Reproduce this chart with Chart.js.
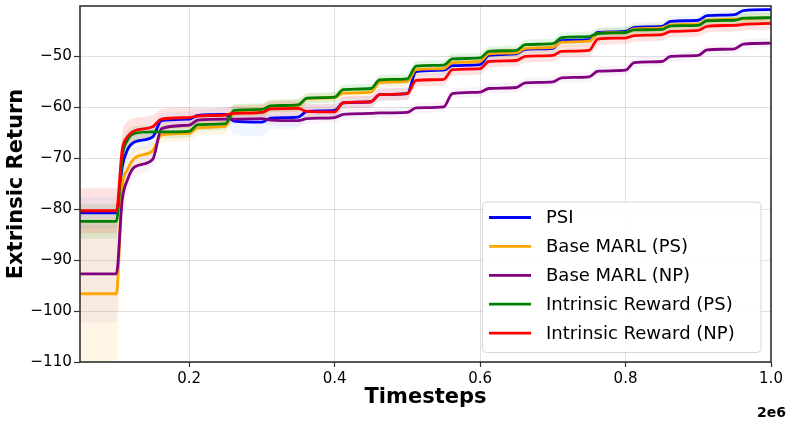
<!DOCTYPE html>
<html>
<head>
<meta charset="utf-8">
<script src="https://cdn.jsdelivr.net/npm/chart.js@4/dist/chart.umd.min.js"></script>
<style>
  html, body { margin: 0; padding: 0; background: #fff; }
  #wrap { width: 793px; height: 428px; position: relative; }
</style>
</head>
<body>
<div id="wrap"><canvas id="c" width="793" height="428"></canvas></div>
<script>
// Timesteps (units of 2e6)
const timesteps = [0.05, 0.1, 0.108, 0.115, 0.125, 0.15, 0.162, 0.2, 0.212, 0.25, 0.262, 0.3, 0.312, 0.35, 0.362, 0.4,
  0.412, 0.45, 0.462, 0.5, 0.512, 0.55, 0.562, 0.6, 0.612, 0.65, 0.662, 0.7, 0.712, 0.75, 0.762, 0.8,
  0.812, 0.85, 0.862, 0.9, 0.912, 0.95, 0.962, 1.0];

const seriesNames = ["PSI", "Base MARL (PS)", "Base MARL (NP)", "Intrinsic Reward (PS)", "Intrinsic Reward (NP)"];

// Mean extrinsic return
const psi = [-80.7, -80.7, -71.7, -68.4, -66.8, -65.8, -62.6, -62.3, -61.6, -61.4, -62.7, -62.9, -62.1, -61.9, -60.8, -60.6,
  -59.1, -58.9, -57.5, -57.3, -53.0, -52.7, -51.8, -51.6, -49.8, -49.5, -48.6, -48.4, -46.9, -46.7, -45.3, -45.1,
  -44.3, -44.1, -43.1, -42.9, -42.0, -41.8, -41.0, -40.8];
const basePS = [-96.6, -96.6, -75.6, -72.3, -70.0, -68.5, -65.4, -65.1, -64.0, -63.7, -60.8, -60.5, -59.8, -59.6, -58.3, -58.1,
  -57.2, -57.0, -55.1, -54.9, -52.6, -52.4, -51.2, -51.0, -49.5, -49.3, -48.4, -48.2, -47.2, -47.0, -45.5, -45.3,
  -44.6, -44.4, -43.8, -43.6, -42.9, -42.7, -42.6, -42.4];
const baseNP = [-92.7, -92.7, -78.2, -74.3, -71.7, -70.2, -64.2, -63.5, -62.5, -62.3, -62.3, -62.2, -62.5, -62.6, -62.2, -62.0,
  -61.4, -61.2, -61.1, -61.0, -60.1, -59.9, -57.3, -57.0, -56.3, -56.1, -55.2, -55.0, -54.2, -54.0, -52.9, -52.7,
  -51.2, -51.0, -50.0, -49.8, -48.7, -48.5, -47.6, -47.4];
const intrPS = [-82.4, -82.4, -69.7, -66.5, -65.1, -64.8, -64.8, -64.7, -63.4, -63.2, -60.6, -60.4, -59.7, -59.5, -58.2, -58.0,
  -56.5, -56.3, -54.6, -54.4, -51.9, -51.7, -50.5, -50.3, -49.0, -48.8, -47.7, -47.5, -46.3, -46.1, -45.5, -45.3,
  -44.8, -44.7, -44.0, -43.9, -43.0, -42.9, -42.5, -42.4];
const intrNP = [-80.3, -80.3, -68.4, -65.8, -64.6, -63.8, -62.3, -62.0, -61.7, -61.5, -61.2, -61.0, -60.3, -60.2, -60.8, -60.9,
  -59.1, -58.9, -57.5, -57.3, -54.7, -54.5, -52.6, -52.4, -51.0, -50.8, -50.0, -49.8, -49.0, -48.8, -46.6, -46.4,
  -45.9, -45.7, -45.1, -44.9, -44.1, -43.9, -43.7, -43.5];

// Spread (std) around each mean
const psiSd = [3.0, 3.0, 3.0, 2.5, 2.0, 1.8, 1.5, 1.5, 1.3, 1.3, 2.8, 2.8, 2.2, 2.2, 1.5, 1.5,
  1.2, 1.2, 1.2, 1.2, 1.0, 1.0, 1.0, 1.0, 1.0, 1.0, 1.0, 1.0, 1.0, 1.0, 1.0, 1.0,
  1.0, 1.0, 1.0, 1.0, 1.0, 1.0, 1.0, 1.0];
const basePSSd = [14.0, 14.0, 6.0, 3.0, 2.0, 1.8, 1.5, 1.5, 1.5, 1.5, 1.2, 1.2, 1.2, 1.2, 1.0, 1.0,
  1.0, 1.0, 1.0, 1.0, 1.0, 1.0, 1.0, 1.0, 1.0, 1.0, 1.0, 1.0, 1.0, 1.0, 1.0, 1.0,
  1.0, 1.0, 1.0, 1.0, 1.0, 1.0, 1.0, 1.0];
const baseNPSd = [9.6, 9.6, 5.0, 3.0, 2.0, 1.5, 1.2, 1.2, 1.0, 1.0, 1.0, 1.0, 1.0, 1.0, 1.0, 1.0,
  1.0, 1.0, 1.0, 1.0, 1.0, 1.0, 1.0, 1.0, 1.0, 1.0, 1.0, 1.0, 1.0, 1.0, 1.0, 1.0,
  1.0, 1.0, 1.0, 1.0, 1.0, 1.0, 1.0, 1.0];
const intrPSSd = [3.4, 3.4, 2.5, 2.0, 1.5, 1.3, 1.2, 1.2, 1.2, 1.2, 1.2, 1.2, 1.2, 1.2, 1.0, 1.0,
  1.0, 1.0, 1.0, 1.0, 1.0, 1.0, 1.0, 1.0, 1.0, 1.0, 1.0, 1.0, 1.0, 1.0, 1.0, 1.0,
  1.0, 1.0, 1.0, 1.0, 1.0, 1.0, 1.0, 1.0];
const intrNPSd = [4.4, 4.4, 3.5, 3.0, 2.5, 2.3, 2.0, 2.0, 1.5, 1.5, 1.5, 1.5, 1.5, 1.5, 1.5, 1.5,
  1.2, 1.2, 1.2, 1.2, 1.2, 1.2, 1.2, 1.2, 1.2, 1.2, 1.2, 1.2, 1.2, 1.2, 1.2, 1.2,
  1.2, 1.2, 1.2, 1.2, 1.2, 1.2, 1.2, 1.2];

const xTicks = [0.2, 0.4, 0.6, 0.8, 1.0];
const yTicks = [-110, -100, -90, -80, -70, -60, -50];

const colors = ["#0000ff", "#ffa500", "#800080", "#008000", "#ff0000"];
const bandColors = ["rgba(100,170,255,0.10)", "rgba(255,165,0,0.10)", "rgba(128,0,128,0.05)", "rgba(0,160,0,0.11)", "rgba(255,0,0,0.11)"];
const means = [psi, basePS, baseNP, intrPS, intrNP];
const sds = [psiSd, basePSSd, baseNPSd, intrPSSd, intrNPSd];

const pts = arr => arr.map((v, i) => ({ x: timesteps[i], y: v }));

const datasets = [];
// main lines; index 0 drawn on top, so red first
for (let k = 4; k >= 0; k--) {
  datasets.push({
    label: seriesNames[k],
    data: pts(means[k]),
    borderColor: colors[k],
    borderWidth: 2.8,
    pointRadius: 0,
    fill: false,
    cubicInterpolationMode: 'monotone'
  });
}
// bands (drawn underneath)
for (let k = 4; k >= 0; k--) {
  datasets.push({
    label: '_upper' + k,
    data: pts(means[k].map((m, i) => m + sds[k][i])),
    borderWidth: 0,
    borderColor: 'rgba(0,0,0,0)',
    pointRadius: 0,
    backgroundColor: bandColors[k],
    fill: '+1',
    cubicInterpolationMode: 'monotone'
  });
  datasets.push({
    label: '_lower' + k,
    data: pts(means[k].map((m, i) => m - sds[k][i])),
    borderWidth: 0,
    borderColor: 'rgba(0,0,0,0)',
    pointRadius: 0,
    fill: false,
    cubicInterpolationMode: 'monotone'
  });
}

const FONT = "'DejaVu Sans', 'Liberation Sans', sans-serif";

const decor = {
  id: 'decor',
  afterDraw(chart) {
    const { ctx, chartArea: a } = chart;
    ctx.save();
    // spines
    ctx.strokeStyle = '#333';
    ctx.lineWidth = 1.6;
    ctx.strokeRect(a.left, a.top, a.right - a.left, a.bottom - a.top);
    // legend
    const bx = 482.5, by = 202, bw = 278.5, bh = 150.5, r = 4;
    ctx.beginPath();
    ctx.moveTo(bx + r, by);
    ctx.arcTo(bx + bw, by, bx + bw, by + bh, r);
    ctx.arcTo(bx + bw, by + bh, bx, by + bh, r);
    ctx.arcTo(bx, by + bh, bx, by, r);
    ctx.arcTo(bx, by, bx + bw, by, r);
    ctx.closePath();
    ctx.fillStyle = 'rgba(255,255,255,0.85)';
    ctx.fill();
    ctx.strokeStyle = '#d6d6d6';
    ctx.lineWidth = 1;
    ctx.stroke();
    ctx.font = '18px ' + FONT;
    ctx.textBaseline = 'middle';
    ctx.textAlign = 'left';
    for (let k = 0; k < 5; k++) {
      const y = 217.5 + k * 28.9;
      ctx.strokeStyle = colors[k];
      ctx.lineWidth = 2.8;
      ctx.beginPath();
      ctx.moveTo(489, y);
      ctx.lineTo(531, y);
      ctx.stroke();
      ctx.fillStyle = '#000';
      ctx.fillText(seriesNames[k], 546, y + 1);
    }
    // offset text
    ctx.font = 'bold 14px ' + FONT;
    ctx.textAlign = 'right';
    ctx.fillStyle = '#000';
    ctx.fillText('2e6', 786, 413);
    ctx.restore();
  }
};

new Chart(document.getElementById('c'), {
  type: 'line',
  data: { datasets },
  options: {
    responsive: false,
    animation: false,
    devicePixelRatio: 1,
    layout: { padding: { left: 0, right: 22, top: 6, bottom: 0 } },
    plugins: { legend: { display: false }, tooltip: { enabled: false } },
    scales: {
      x: {
        type: 'linear',
        min: 0.05,
        max: 1.0,
        afterBuildTicks: s => { s.ticks = xTicks.map(v => ({ value: v })); },
        afterFit: s => { s.height = 66; s.paddingLeft = 0; s.paddingRight = 0; },
        ticks: {
          font: { family: FONT, size: 15 },
          color: '#000',
          padding: 3,
          maxRotation: 0,
          callback: v => Number(v).toFixed(1)
        },
        grid: { color: 'rgba(0,0,0,0.12)', lineWidth: 1, tickLength: 5, tickColor: '#333', tickWidth: 1.2 },
        border: { display: false },
        title: { display: true, text: 'Timesteps', font: { family: FONT, size: 21, weight: 'bold' }, color: '#000', padding: { top: 0, bottom: 18 } }
      },
      y: {
        type: 'linear',
        min: -110,
        max: -40.1,
        afterBuildTicks: s => { s.ticks = yTicks.map(v => ({ value: v })); },
        afterFit: s => { s.width = 80; s.paddingTop = 0; s.paddingBottom = 0; },
        ticks: {
          font: { family: FONT, size: 15.2 },
          color: '#000',
          padding: 2,
          callback: v => String(v).replace('-', '\u2212')
        },
        grid: { color: 'rgba(0,0,0,0.12)', lineWidth: 1, tickLength: 6, tickColor: '#333', tickWidth: 1.2 },
        border: { display: false },
        title: { display: true, text: 'Extrinsic Return', font: { family: FONT, size: 21, weight: 'bold' }, color: '#000', padding: { top: 4, bottom: 0 } }
      }
    }
  },
  plugins: [decor]
});
</script>
</body>
</html>
